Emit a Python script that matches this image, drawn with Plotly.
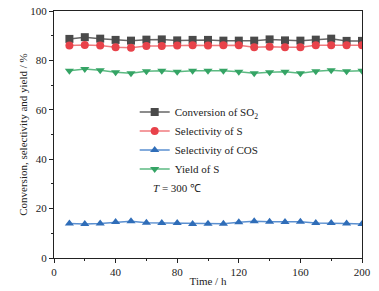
import plotly.graph_objects as go

time_h = [10, 20, 30, 40, 50, 60, 70, 80, 90, 100, 110, 120, 130, 140, 150, 160, 170, 180, 190, 200]
conv_so2 = [88.7, 89.4, 88.8, 88.3, 88.0, 88.4, 88.5, 88.1, 88.3, 88.3,
            88.0, 88.0, 88.0, 88.5, 88.1, 88.0, 88.4, 88.8, 87.9, 87.9]
sel_s = [86.0, 86.2, 86.0, 85.3, 85.1, 85.8, 85.8, 86.0, 86.1, 86.0,
         86.1, 86.1, 85.3, 85.5, 85.3, 85.3, 86.1, 86.1, 86.1, 86.1]
sel_cos = [14.0, 13.8, 14.0, 14.6, 14.9, 14.3, 14.2, 14.2, 13.8, 13.9,
           13.9, 14.5, 14.9, 14.7, 14.6, 14.7, 14.2, 14.2, 14.0, 13.8]
yield_s = [75.8, 76.5, 76.0, 75.2, 74.8, 75.6, 75.8, 75.4, 75.8, 75.8,
           75.8, 75.4, 74.8, 75.2, 75.4, 74.8, 75.6, 76.0, 75.6, 75.8]

series = [
    ("Conversion of SO<sub>2</sub>", conv_so2, "square", "#4a4a4a", "#666666"),
    ("Selectivity of S", sel_s, "circle", "#e8424a", "#f07a7e"),
    ("Selectivity of COS", sel_cos, "triangle-up", "#2f6db8", "#5a8fd0"),
    ("Yield of S", yield_s, "triangle-down", "#35a465", "#5cba82"),
]

fig = go.Figure()
for name, vals, sym, mc, lc in series:
    fig.add_trace(go.Scatter(
        x=time_h, y=vals, name=name, mode="lines+markers",
        line=dict(color=lc, width=1.5),
        marker=dict(symbol=sym, size=8, color=mc),
    ))

font = dict(family="Liberation Serif, Times New Roman, serif", size=11, color="#222")
axis_common = dict(
    showline=True, linecolor="#222", linewidth=1, mirror=True,
    ticks="outside", ticklen=4, tickcolor="#222", showgrid=False, zeroline=False,
    tickfont=font, automargin=False,
)
fig.update_layout(
    width=379, height=291,
    margin=dict(l=54, r=17, t=11, b=33),
    paper_bgcolor="white", plot_bgcolor="white",
    font=font,
    xaxis=dict(range=[0, 200], tickvals=[0, 40, 80, 120, 160, 200],
               minor=dict(tickvals=[20, 60, 100, 140, 180], ticks="outside", ticklen=2, tickcolor="#222"),
               title=dict(text="Time / h", font=font, standoff=0), **axis_common),
    yaxis=dict(range=[0, 100], tickvals=[0, 20, 40, 60, 80, 100],
               minor=dict(tickvals=[10, 30, 50, 70, 90], ticks="outside", ticklen=2, tickcolor="#222"),
               title=dict(text="Conversion, selectivity and yield / %", font=font, standoff=0), **axis_common),
    legend=dict(x=0.262, y=0.65, xanchor="left", yanchor="top", bgcolor="rgba(0,0,0,0)",
                font=font, itemwidth=30, tracegroupgap=0),
    showlegend=True,
)
fig.add_annotation(x=0.40, y=0.25, xref="paper", yref="paper", showarrow=False,
                   text="<i>T</i> = 300 ℃", font=font)
fig.write_html("out.html", config={"displayModeBar": False},
               post_script="document.body.style.margin='0';document.body.style.overflow='hidden';")
